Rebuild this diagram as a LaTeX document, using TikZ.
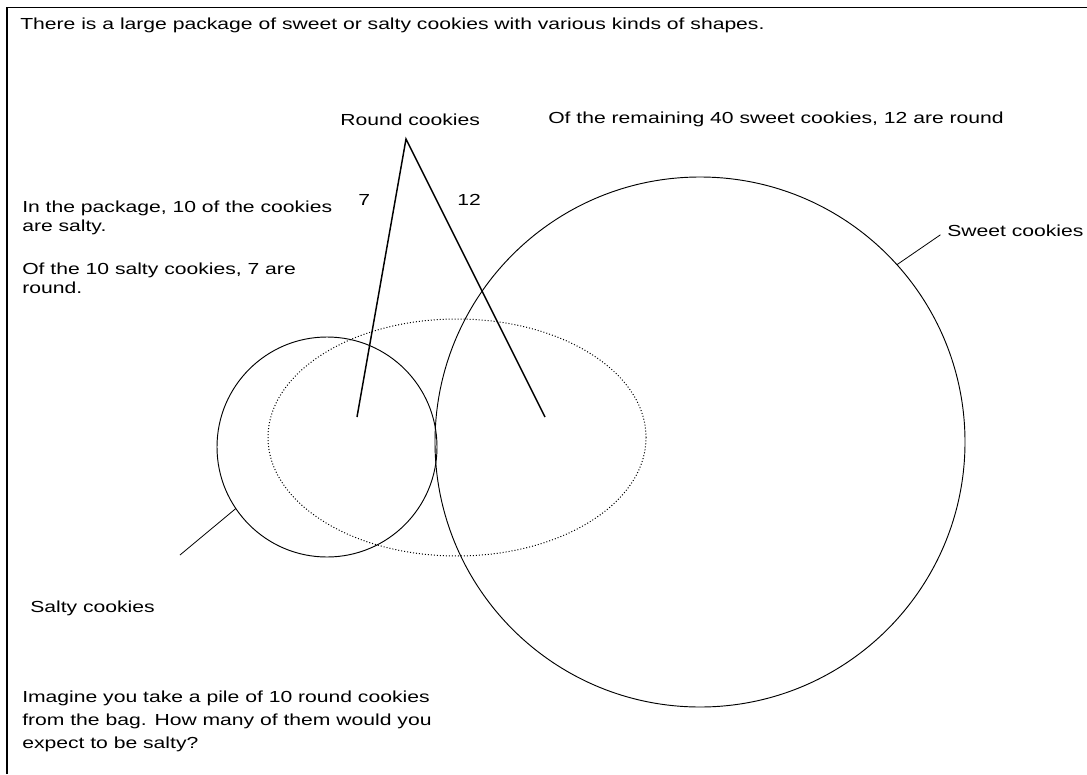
\documentclass[tikz,border=0pt]{standalone}
\usepackage{fontspec}
\setmainfont[FakeStretch=1.32]{Liberation Sans}
\usetikzlibrary{shapes.geometric}

\begin{document}
\begin{tikzpicture}[x=0.75pt, y=-0.75pt, font=\fontsize{12}{14.25}\selectfont, txt/.style={inner sep=0pt, anchor=base west, align=left}, ring/.style={draw, circle, inner sep=0pt, outer sep=0pt, line width=0.7pt}, lead/.style={line width=0.6pt}]
\useasboundingbox (0,0) rectangle (1087,774);
\draw[line width=1.2pt] (7,774) -- (7,7.5) -- (1087,7.5);
\node[txt] (intro) at (20,30) {There is a large package of sweet or salty cookies with various kinds of shapes.};
\node[txt] (roundlbl) at (340,125) {Round cookies};
\node[txt] (remain) at (548,123) {Of the remaining 40 sweet cookies, 12 are round};
\node[txt] (seven) at (358,205) {7};
\node[txt] (twelve) at (457,205) {12};
\node[txt] (saltyinfo) at (22,231) {In the package, 10 of the cookies\\are salty.};
\node[txt] (roundinfo) at (22,293) {Of the 10 salty cookies, 7 are\\round.};
\node[txt] (sweetlbl) at (947,236) {Sweet cookies};
\node[txt] (saltylbl) at (30,612) {Salty cookies};
\node[txt, font=\fontsize{12}{17.25}\selectfont] (question) at (22,748) {Imagine you take a pile of 10 round cookies\\from the bag. How many of them would you\\expect to be salty?};
\node[ring, minimum size=165pt] (salty) at (327,447) {};
\node[ring, minimum size=397.5pt] (sweet) at (700,442) {};
\node[draw, ellipse, inner sep=0pt, outer sep=0pt, minimum width=283.5pt, minimum height=177.75pt, line width=0.75pt, dash pattern=on 0.75pt off 1.5pt] (round) at (457,437.5) {};
\coordinate (apex) at (406,139);
\coordinate (saltyend) at (357,417);
\coordinate (sweetend) at (545,417);
\draw[line width=1.1pt] (saltyend) -- (apex) -- (sweetend);
\draw[lead, shorten <=6pt] (sweetlbl.west) -- (sweet.42);
\coordinate (saltytail) at (180,555);
\draw[lead] (saltytail) -- (salty.214);
\end{tikzpicture}
\end{document}
